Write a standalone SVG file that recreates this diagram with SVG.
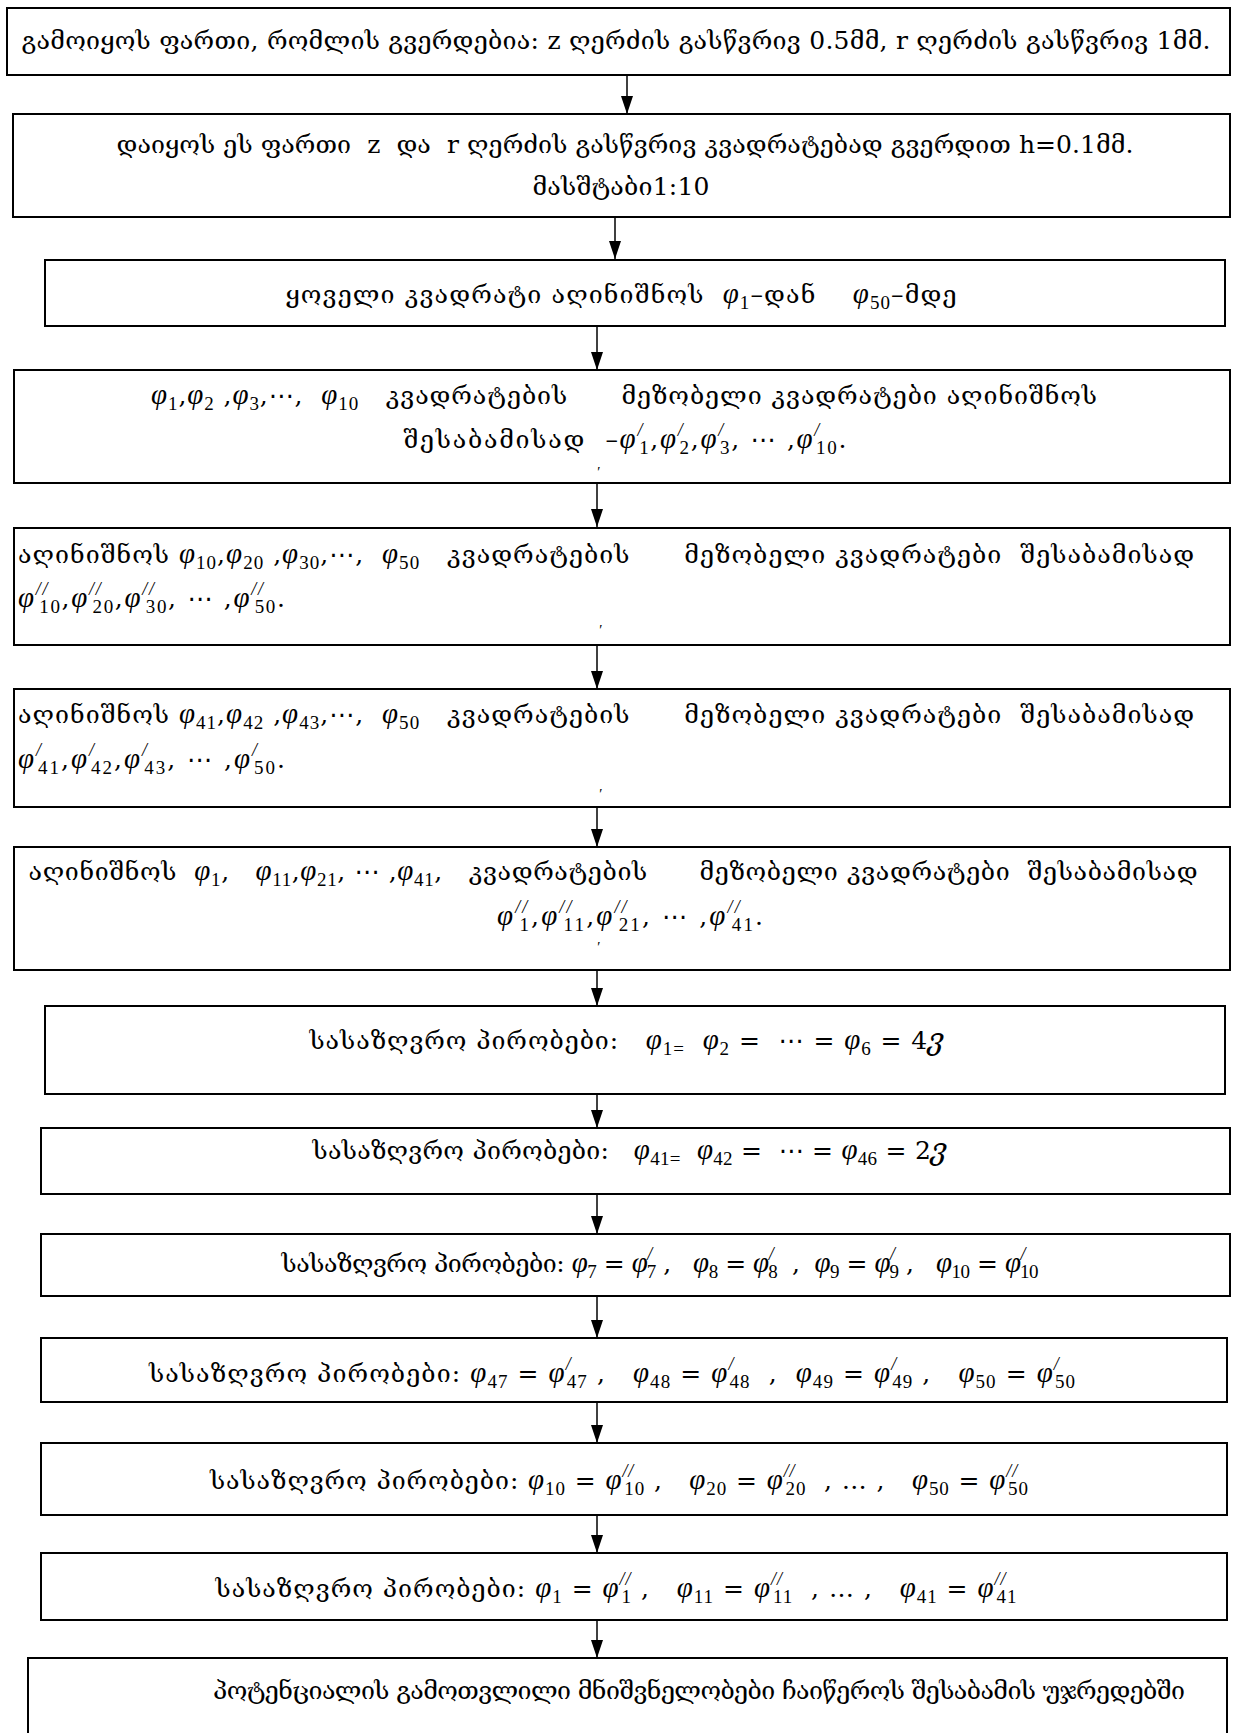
<svg xmlns="http://www.w3.org/2000/svg" width="1236" height="1733" viewBox="0 0 1236 1733">
<defs>
<style>
.b{fill:#fff;stroke:#000;stroke-width:2}
.t{font-family:"DejaVu Serif","DejaVu Sans",serif;font-size:25px;fill:#000;white-space:pre}
.m{font-family:"Liberation Serif","DejaVu Serif",serif;font-style:italic;font-size:29px}
.s{font-family:"Liberation Serif","DejaVu Serif",serif;font-style:normal;font-size:19px}
.p{font-family:"Liberation Serif","DejaVu Serif",serif;font-style:italic;font-size:18px}
.c line{stroke:#000;stroke-width:1.5}
</style>
<marker id="ad" markerWidth="12" markerHeight="18" refX="6" refY="18" markerUnits="userSpaceOnUse" viewBox="0 0 12 18">
<path d="M0,0 L12,0 L6,18 Z" fill="#000"/>
</marker>
</defs>
<rect width="1236" height="1733" fill="#fff"/>

<g id="connectors" class="c">
<line x1="627" y1="75" x2="627" y2="114" marker-end="url(#ad)"/>
<line x1="615" y1="217" x2="615" y2="259" marker-end="url(#ad)"/>
<line x1="597" y1="326" x2="597" y2="370" marker-end="url(#ad)"/>
<line x1="597" y1="483" x2="597" y2="527" marker-end="url(#ad)"/>
<line x1="597" y1="645" x2="597" y2="689" marker-end="url(#ad)"/>
<line x1="597" y1="807" x2="597" y2="847" marker-end="url(#ad)"/>
<line x1="597" y1="970" x2="597" y2="1006" marker-end="url(#ad)"/>
<line x1="597" y1="1094" x2="597" y2="1128" marker-end="url(#ad)"/>
<line x1="597" y1="1194" x2="597" y2="1234" marker-end="url(#ad)"/>
<line x1="597" y1="1296" x2="597" y2="1338" marker-end="url(#ad)"/>
<line x1="597" y1="1402" x2="597" y2="1443" marker-end="url(#ad)"/>
<line x1="597" y1="1515" x2="597" y2="1553" marker-end="url(#ad)"/>
<line x1="597" y1="1620" x2="597" y2="1658" marker-end="url(#ad)"/>
</g>

<g id="n1">
<rect class="b" x="7" y="8" width="1223" height="67"/>
<text class="t" x="616" y="49" text-anchor="middle" textLength="1189" lengthAdjust="spacing">გამოიყოს ფართი, რომლის გვერდებია: z ღერძის გასწვრივ 0.5მმ, r ღერძის გასწვრივ 1მმ.</text>
</g>

<g id="n2">
<rect class="b" x="13" y="114" width="1217" height="103"/>
<text class="t" x="625" y="153" text-anchor="middle" textLength="1017" lengthAdjust="spacing">დაიყოს ეს ფართი  z  და  r ღერძის გასწვრივ კვადრატებად გვერდით h=0.1მმ.</text>
<text class="t" x="621" y="195" text-anchor="middle" textLength="177" lengthAdjust="spacing">მასშტაბი1:10</text>
</g>

<g id="n3">
<rect class="b" x="45" y="260" width="1180" height="66"/>
<text class="t" x="621" y="303" text-anchor="middle" textLength="671" lengthAdjust="spacing">ყოველი კვადრატი აღინიშნოს  <tspan class="m">φ</tspan><tspan class="s" dy="6">1</tspan><tspan dy="-6">–დან    </tspan><tspan class="m">φ</tspan><tspan class="s" dy="6">50</tspan><tspan dy="-6">–მდე</tspan></text>
</g>

<g id="n4">
<rect class="b" x="14" y="370" width="1216" height="113"/>
<text class="t" x="624" y="404" text-anchor="middle" textLength="946" lengthAdjust="spacing"><tspan class="m">φ</tspan><tspan class="s" dy="6">1</tspan><tspan dy="-6">,</tspan><tspan class="m">φ</tspan><tspan class="s" dy="6">2</tspan><tspan dy="-6"> ,</tspan><tspan class="m">φ</tspan><tspan class="s" dy="6">3</tspan><tspan dy="-6">,⋯,  </tspan><tspan class="m">φ</tspan><tspan class="s" dy="6">10</tspan><tspan dy="-6">   კვადრატების      მეზობელი კვადრატები აღინიშნოს</tspan></text>
<text class="t" x="625" y="448" text-anchor="middle" textLength="443" lengthAdjust="spacing">შესაბამისად  –<tspan class="m">φ</tspan><tspan class="p" dy="-12">/</tspan><tspan class="s" dx="-5" dy="18">1</tspan><tspan dy="-6">,</tspan><tspan class="m">φ</tspan><tspan class="p" dy="-12">/</tspan><tspan class="s" dx="-5" dy="18">2</tspan><tspan dy="-6">,</tspan><tspan class="m">φ</tspan><tspan class="p" dy="-12">/</tspan><tspan class="s" dx="-5" dy="18">3</tspan><tspan dy="-6">, ⋯ ,</tspan><tspan class="m">φ</tspan><tspan class="p" dy="-12">/</tspan><tspan class="s" dx="-5" dy="18">10</tspan><tspan dy="-6">.</tspan></text>
<text class="p" x="598" y="477" text-anchor="middle" style="font-size:15px">′</text>
</g>

<g id="n5">
<rect class="b" x="14" y="528" width="1216" height="117"/>
<text class="t" x="18" y="563" textLength="1176" lengthAdjust="spacing">აღინიშნოს <tspan class="m">φ</tspan><tspan class="s" dy="6">10</tspan><tspan dy="-6">,</tspan><tspan class="m">φ</tspan><tspan class="s" dy="6">20</tspan><tspan dy="-6"> ,</tspan><tspan class="m">φ</tspan><tspan class="s" dy="6">30</tspan><tspan dy="-6">,⋯,  </tspan><tspan class="m">φ</tspan><tspan class="s" dy="6">50</tspan><tspan dy="-6">   კვადრატების      მეზობელი კვადრატები  შესაბამისად</tspan></text>
<text class="t" x="18" y="607" textLength="267" lengthAdjust="spacing"><tspan class="m">φ</tspan><tspan class="p" dy="-12">//</tspan><tspan class="s" dx="-10" dy="18">10</tspan><tspan dy="-6">,</tspan><tspan class="m">φ</tspan><tspan class="p" dy="-12">//</tspan><tspan class="s" dx="-10" dy="18">20</tspan><tspan dy="-6">,</tspan><tspan class="m">φ</tspan><tspan class="p" dy="-12">//</tspan><tspan class="s" dx="-10" dy="18">30</tspan><tspan dy="-6">, ⋯ ,</tspan><tspan class="m">φ</tspan><tspan class="p" dy="-12">//</tspan><tspan class="s" dx="-10" dy="18">50</tspan><tspan dy="-6">.</tspan></text>
<text class="p" x="600" y="635" text-anchor="middle" style="font-size:15px">′</text>
</g>

<g id="n6">
<rect class="b" x="14" y="689" width="1216" height="118"/>
<text class="t" x="18" y="723" textLength="1176" lengthAdjust="spacing">აღინიშნოს <tspan class="m">φ</tspan><tspan class="s" dy="6">41</tspan><tspan dy="-6">,</tspan><tspan class="m">φ</tspan><tspan class="s" dy="6">42</tspan><tspan dy="-6"> ,</tspan><tspan class="m">φ</tspan><tspan class="s" dy="6">43</tspan><tspan dy="-6">,⋯,  </tspan><tspan class="m">φ</tspan><tspan class="s" dy="6">50</tspan><tspan dy="-6">   კვადრატების      მეზობელი კვადრატები  შესაბამისად</tspan></text>
<text class="t" x="18" y="768" textLength="267" lengthAdjust="spacing"><tspan class="m">φ</tspan><tspan class="p" dy="-12">/</tspan><tspan class="s" dx="-5" dy="18">41</tspan><tspan dy="-6">,</tspan><tspan class="m">φ</tspan><tspan class="p" dy="-12">/</tspan><tspan class="s" dx="-5" dy="18">42</tspan><tspan dy="-6">,</tspan><tspan class="m">φ</tspan><tspan class="p" dy="-12">/</tspan><tspan class="s" dx="-5" dy="18">43</tspan><tspan dy="-6">, ⋯ ,</tspan><tspan class="m">φ</tspan><tspan class="p" dy="-12">/</tspan><tspan class="s" dx="-5" dy="18">50</tspan><tspan dy="-6">.</tspan></text>
<text class="p" x="600" y="799" text-anchor="middle" style="font-size:15px">′</text>
</g>

<g id="n7">
<rect class="b" x="14" y="847" width="1216" height="123"/>
<text class="t" x="613" y="880" text-anchor="middle" textLength="1169" lengthAdjust="spacing">აღინიშნოს  <tspan class="m">φ</tspan><tspan class="s" dy="6">1</tspan><tspan dy="-6">,   </tspan><tspan class="m">φ</tspan><tspan class="s" dy="6">11</tspan><tspan dy="-6">,</tspan><tspan class="m">φ</tspan><tspan class="s" dy="6">21</tspan><tspan dy="-6">, ⋯ ,</tspan><tspan class="m">φ</tspan><tspan class="s" dy="6">41</tspan><tspan dy="-6">,   კვადრატების      მეზობელი კვადრატები  შესაბამისად</tspan></text>
<text class="t" x="630" y="925" text-anchor="middle" textLength="266" lengthAdjust="spacing"><tspan class="m">φ</tspan><tspan class="p" dy="-12">//</tspan><tspan class="s" dx="-10" dy="18">1</tspan><tspan dy="-6">,</tspan><tspan class="m">φ</tspan><tspan class="p" dy="-12">//</tspan><tspan class="s" dx="-10" dy="18">11</tspan><tspan dy="-6">,</tspan><tspan class="m">φ</tspan><tspan class="p" dy="-12">//</tspan><tspan class="s" dx="-10" dy="18">21</tspan><tspan dy="-6">, ⋯ ,</tspan><tspan class="m">φ</tspan><tspan class="p" dy="-12">//</tspan><tspan class="s" dx="-10" dy="18">41</tspan><tspan dy="-6">.</tspan></text>
<text class="p" x="598" y="952" text-anchor="middle" style="font-size:15px">′</text>
</g>

<g id="n8">
<rect class="b" x="45" y="1006" width="1180" height="88"/>
<text class="t" x="627" y="1049" text-anchor="middle" textLength="635" lengthAdjust="spacing">სასაზღვრო პირობები:   <tspan class="m">φ</tspan><tspan class="s" dy="6">1=</tspan><tspan dy="-6">  </tspan><tspan class="m">φ</tspan><tspan class="s" dy="6">2</tspan><tspan dy="-6"> =  ⋯ = </tspan><tspan class="m">φ</tspan><tspan class="s" dy="6">6</tspan><tspan dy="-6"> = 4</tspan><tspan class="m">ვ</tspan></text>
</g>

<g id="n9">
<rect class="b" x="41" y="1128" width="1189" height="66"/>
<text class="t" x="630" y="1159" text-anchor="middle" textLength="635" lengthAdjust="spacing">სასაზღვრო პირობები:   <tspan class="m">φ</tspan><tspan class="s" dy="6">41=</tspan><tspan dy="-6">  </tspan><tspan class="m">φ</tspan><tspan class="s" dy="6">42</tspan><tspan dy="-6"> =  ⋯ = </tspan><tspan class="m">φ</tspan><tspan class="s" dy="6">46</tspan><tspan dy="-6"> = 2</tspan><tspan class="m">ვ</tspan></text>
</g>

<g id="n10">
<rect class="b" x="41" y="1234" width="1189" height="62"/>
<text class="t" x="660" y="1272" text-anchor="middle" textLength="757" lengthAdjust="spacing">სასაზღვრო პირობები: <tspan class="m">φ</tspan><tspan class="s" dy="6">7</tspan><tspan dy="-6"> = </tspan><tspan class="m">φ</tspan><tspan class="p" dy="-12">/</tspan><tspan class="s" dx="-5" dy="18">7</tspan><tspan dy="-6"> ,   </tspan><tspan class="m">φ</tspan><tspan class="s" dy="6">8</tspan><tspan dy="-6"> = </tspan><tspan class="m">φ</tspan><tspan class="p" dy="-12">/</tspan><tspan class="s" dx="-5" dy="18">8</tspan><tspan dy="-6">  ,  </tspan><tspan class="m">φ</tspan><tspan class="s" dy="6">9</tspan><tspan dy="-6"> = </tspan><tspan class="m">φ</tspan><tspan class="p" dy="-12">/</tspan><tspan class="s" dx="-5" dy="18">9</tspan><tspan dy="-6"> ,   </tspan><tspan class="m">φ</tspan><tspan class="s" dy="6">10</tspan><tspan dy="-6"> = </tspan><tspan class="m">φ</tspan><tspan class="p" dy="-12">/</tspan><tspan class="s" dx="-5" dy="18">10</tspan></text>
</g>

<g id="n11">
<rect class="b" x="41" y="1338" width="1186" height="64"/>
<text class="t" x="612" y="1382" text-anchor="middle" textLength="926" lengthAdjust="spacing">სასაზღვრო პირობები: <tspan class="m">φ</tspan><tspan class="s" dy="6">47</tspan><tspan dy="-6"> = </tspan><tspan class="m">φ</tspan><tspan class="p" dy="-12">/</tspan><tspan class="s" dx="-5" dy="18">47</tspan><tspan dy="-6"> ,   </tspan><tspan class="m">φ</tspan><tspan class="s" dy="6">48</tspan><tspan dy="-6"> = </tspan><tspan class="m">φ</tspan><tspan class="p" dy="-12">/</tspan><tspan class="s" dx="-5" dy="18">48</tspan><tspan dy="-6">  ,  </tspan><tspan class="m">φ</tspan><tspan class="s" dy="6">49</tspan><tspan dy="-6"> = </tspan><tspan class="m">φ</tspan><tspan class="p" dy="-12">/</tspan><tspan class="s" dx="-5" dy="18">49</tspan><tspan dy="-6"> ,   </tspan><tspan class="m">φ</tspan><tspan class="s" dy="6">50</tspan><tspan dy="-6"> = </tspan><tspan class="m">φ</tspan><tspan class="p" dy="-12">/</tspan><tspan class="s" dx="-5" dy="18">50</tspan></text>
</g>

<g id="n12">
<rect class="b" x="41" y="1443" width="1186" height="72"/>
<text class="t" x="619" y="1489" text-anchor="middle" textLength="818" lengthAdjust="spacing">სასაზღვრო პირობები: <tspan class="m">φ</tspan><tspan class="s" dy="6">10</tspan><tspan dy="-6"> = </tspan><tspan class="m">φ</tspan><tspan class="p" dy="-12">//</tspan><tspan class="s" dx="-10" dy="18">10</tspan><tspan dy="-6"> ,   </tspan><tspan class="m">φ</tspan><tspan class="s" dy="6">20</tspan><tspan dy="-6"> = </tspan><tspan class="m">φ</tspan><tspan class="p" dy="-12">//</tspan><tspan class="s" dx="-10" dy="18">20</tspan><tspan dy="-6">  , … ,   </tspan><tspan class="m">φ</tspan><tspan class="s" dy="6">50</tspan><tspan dy="-6"> = </tspan><tspan class="m">φ</tspan><tspan class="p" dy="-12">//</tspan><tspan class="s" dx="-10" dy="18">50</tspan></text>
</g>

<g id="n13">
<rect class="b" x="41" y="1553" width="1186" height="67"/>
<text class="t" x="616" y="1597" text-anchor="middle" textLength="801" lengthAdjust="spacing">სასაზღვრო პირობები: <tspan class="m">φ</tspan><tspan class="s" dy="6">1</tspan><tspan dy="-6"> = </tspan><tspan class="m">φ</tspan><tspan class="p" dy="-12">//</tspan><tspan class="s" dx="-10" dy="18">1</tspan><tspan dy="-6"> ,   </tspan><tspan class="m">φ</tspan><tspan class="s" dy="6">11</tspan><tspan dy="-6"> = </tspan><tspan class="m">φ</tspan><tspan class="p" dy="-12">//</tspan><tspan class="s" dx="-10" dy="18">11</tspan><tspan dy="-6">  , … ,   </tspan><tspan class="m">φ</tspan><tspan class="s" dy="6">41</tspan><tspan dy="-6"> = </tspan><tspan class="m">φ</tspan><tspan class="p" dy="-12">//</tspan><tspan class="s" dx="-10" dy="18">41</tspan></text>
</g>

<g id="n14">
<rect class="b" x="28" y="1658" width="1199" height="90"/>
<text class="t" x="699" y="1699" text-anchor="middle" textLength="972" lengthAdjust="spacing">პოტენციალის გამოთვლილი მნიშვნელობები ჩაიწეროს შესაბამის უჯრედებში</text>
</g>
</svg>
